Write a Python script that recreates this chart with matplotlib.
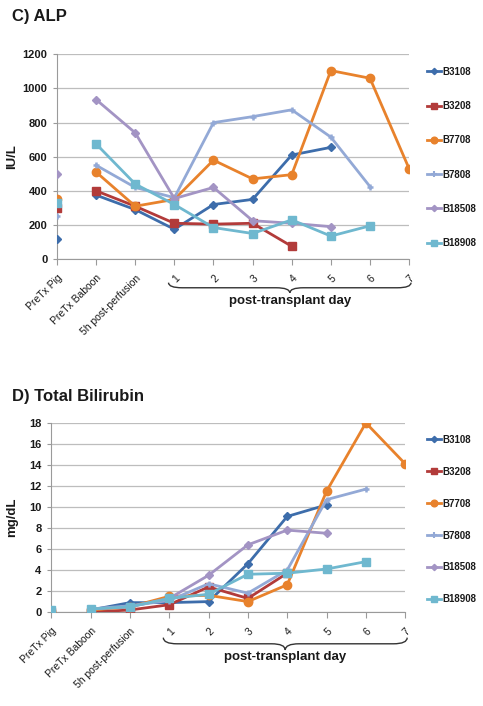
import numpy as np
import matplotlib
matplotlib.use('Agg')
import matplotlib.pyplot as plt
from matplotlib.path import Path
from matplotlib.patches import PathPatch
from matplotlib.lines import Line2D
import matplotlib.transforms as mtransforms

plt.rcParams['font.family'] = ['Liberation Sans', 'DejaVu Sans']

# ---- data ----
categories = ['PreTx Pig', 'PreTx Baboon', '5h post-perfusion', '1', '2', '3', '4', '5', '6', '7']
animals = ['B3108', 'B3208', 'B7708', 'B7808', 'B18508', 'B18908']

nan = np.nan
alp_b3108 = [115, 375, 290, 175, 320, 350, 610, 655, nan, nan]
alp_b3208 = [300, 400, 310, 210, 205, 210, 75, nan, nan, nan]
alp_b7708 = [350, 510, 310, 350, 580, 470, 495, 1105, 1060, 530]
alp_b7808 = [255, 550, 420, 360, 800, 835, 875, 715, 425, nan]
alp_b18508 = [500, 935, 740, 355, 420, 225, 210, 190, nan, nan]
alp_b18908 = [330, 675, 440, 320, 185, 150, 230, 135, 195, nan]

bili_b3108 = [0.1, 0.2, 0.9, 0.9, 1.0, 4.6, 9.1, 10.2, nan, nan]
bili_b3208 = [0.0, 0.0, 0.2, 0.7, 2.4, 1.3, 3.7, nan, nan, nan]
bili_b7708 = [0.1, 0.2, 0.5, 1.5, 1.6, 1.0, 2.6, 11.5, 18.0, 14.1]
bili_b7808 = [0.2, 0.3, 0.6, 1.1, 2.7, 1.8, 4.0, 10.7, 11.7, nan]
bili_b18508 = [0.1, 0.3, 0.5, 1.3, 3.5, 6.4, 7.8, 7.5, nan, nan]
bili_b18908 = [0.2, 0.3, 0.5, 1.3, 1.7, 3.6, 3.7, 4.1, 4.8, nan]

alp_series = [alp_b3108, alp_b3208, alp_b7708, alp_b7808, alp_b18508, alp_b18908]
bili_series = [bili_b3108, bili_b3208, bili_b7708, bili_b7808, bili_b18508, bili_b18908]

# ---- style ----
colors = ['#3d6dab', '#b23b3a', '#e8822c', '#93a9d6', '#a394c4', '#6fb8cf']
markers = ['D', 's', 'o', '+', 'D', 's']
msizes = [4, 6, 6, 5, 4, 6]
grid_gray = '#bdbdbd'
axis_gray = '#9a9a9a'
text_dark = '#1a1a1a'


def draw_brace(ax, x0, x1, y_top, y_bot, y_text, r=0.35):
    trans = mtransforms.blended_transform_factory(ax.transData, ax.transAxes)
    ym = (y_top + y_bot) / 2
    xm = (x0 + x1) / 2
    verts = [(x0, y_top), (x0, ym), (x0 + r, ym),
             (xm - r, ym), (xm, ym), (xm, y_bot),
             (xm, ym), (xm + r, ym),
             (x1 - r, ym), (x1, ym), (x1, y_top)]
    codes = [Path.MOVETO, Path.CURVE3, Path.CURVE3,
             Path.LINETO, Path.CURVE3, Path.CURVE3,
             Path.CURVE3, Path.CURVE3,
             Path.LINETO, Path.CURVE3, Path.CURVE3]
    patch = PathPatch(Path(verts, codes), facecolor='none', edgecolor='#333333',
                      lw=1.0, transform=trans, clip_on=False)
    ax.add_patch(patch)
    ax.text(xm, y_text, 'post-transplant day', transform=trans,
            ha='center', va='center', fontsize=9.5, fontweight='bold', color=text_dark)


def draw_panel(ax, series, ylim, yticks, ylabel, label_x, brace_y):
    x = np.arange(len(categories))
    for vals, c, m, ms, name in zip(series, colors, markers, msizes, animals):
        v = np.array(vals, dtype=float)
        line_v = v.copy()
        line_v[0] = nan
        mew = 1.8 if m == '+' else 1.0
        ax.plot(x, line_v, color=c, lw=2.0, marker=m, ms=ms, mew=mew,
                mec=c, mfc=c, zorder=3, label=name)
        ax.plot(x[0], v[0], color=c, marker=m, ms=ms, mew=mew, mec=c, mfc=c,
                ls='none', zorder=3)
    ax.set_xlim(0, len(categories) - 1)
    ax.set_ylim(*ylim)
    ax.set_yticks(yticks)
    ax.set_xticks(x)
    ax.set_xticklabels(categories, rotation=45, ha='right', rotation_mode='anchor',
                       fontsize=7.5, color=text_dark)
    for lab in ax.get_yticklabels():
        lab.set_fontweight('bold')
        lab.set_fontsize(8)
        lab.set_color(text_dark)
    ax.yaxis.grid(True, color=grid_gray, lw=0.9)
    ax.set_axisbelow(True)
    for s in ['top', 'right']:
        ax.spines[s].set_visible(False)
    ax.spines['left'].set_color(axis_gray)
    ax.spines['bottom'].set_color(axis_gray)
    ax.tick_params(axis='x', length=4, color=axis_gray, pad=6)
    ax.tick_params(axis='y', length=3, color=axis_gray, pad=4)
    ax.set_ylabel(ylabel, fontsize=9.5, fontweight='bold', color=text_dark)
    ax.yaxis.set_label_coords(label_x, 0.5)
    draw_brace(ax, 2.85, len(categories) - 1 + 0.05, *brace_y)


fig = plt.figure(figsize=(4.83, 7.06), dpi=100)

ax1 = fig.add_axes([0.118, 0.633, 0.729, 0.290])
draw_panel(ax1, alp_series, (0, 1200), np.arange(0, 1201, 200), 'IU/L', -0.11,
           (-0.115, -0.165, -0.205))
fig.text(0.025, 0.977, 'C) ALP', fontsize=12, fontweight='bold',
         va='center', ha='left', color=text_dark)

ax2 = fig.add_axes([0.106, 0.133, 0.733, 0.268])
draw_panel(ax2, bili_series, (0, 18), np.arange(0, 19, 2), 'mg/dL', -0.093,
           (-0.135, -0.2, -0.238))
fig.text(0.025, 0.438, 'D) Total Bilirubin', fontsize=12, fontweight='bold',
         va='center', ha='left', color=text_dark)

for ax, ytop, spacing in [(ax1, 1 - 63 / 706, 2.49), (ax2, 1 - 431 / 706, 2.25)]:
    handles = [Line2D([], [], color=c, lw=2.0, marker=m, ms=ms * 0.8, mec=c, mfc=c,
                      mew=1.5 if m == '+' else 1.0)
               for c, m, ms in zip(colors, markers, msizes)]
    leg = fig.legend(handles, animals, loc='upper left',
                     bbox_to_anchor=(0.875, ytop), frameon=False,
                     fontsize=7, handlelength=1.5, handletextpad=0.1,
                     labelspacing=spacing, borderaxespad=0)
    for t in leg.get_texts():
        t.set_fontweight('bold')
        t.set_color(text_dark)

fig.savefig('out.png', dpi=100)
